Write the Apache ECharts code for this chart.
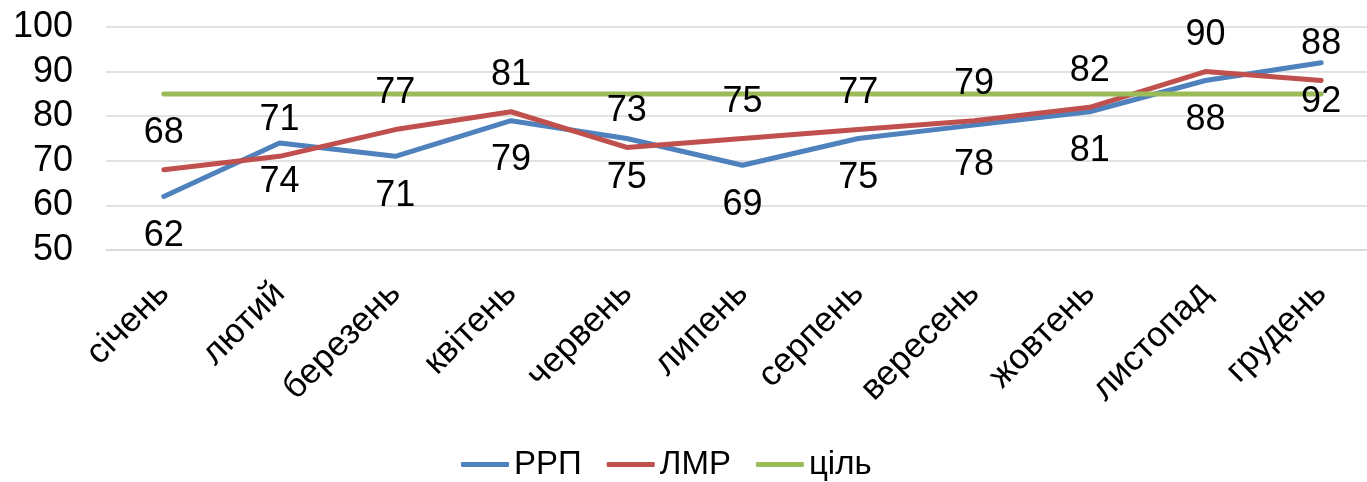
<!DOCTYPE html>
<html>
<head>
<meta charset="utf-8">
<script src="https://cdn.jsdelivr.net/npm/echarts@6/dist/echarts.min.js"></script>
<style>
html,body{margin:0;padding:0;background:#fff;overflow:hidden;width:1367px;height:482px;}
#chart{width:1380px;height:482px;}
</style>
</head>
<body>
<div id="chart"></div>
<script>
const categories = ['січень','лютий','березень','квітень','червень','липень','серпень','вересень','жовтень','листопад','грудень'];
const rrp = [62, 74, 71, 79, 75, 69, 75, 78, 81, 88, 92];
const lmr = [68, 71, 77, 81, 73, 75, 77, 79, 82, 90, 88];
const target = [85, 85, 85, 85, 85, 85, 85, 85, 85, 85, 85];
const seriesNames = ['РРП', 'ЛМР', 'ціль'];

const FONT = 'Liberation Sans, Arial, sans-serif';
const chart = echarts.init(document.getElementById('chart'), null, {renderer: 'canvas'});

function lineSeries(name, data, color, labelPos, dist) {
  const s = {
    name: name,
    type: 'line',
    data: data,
    symbol: 'circle',
    symbolSize: 1,
    showSymbol: true,
    itemStyle: {color: color},
    lineStyle: {color: color, width: 5, cap: 'round', join: 'round'},
    emphasis: {disabled: true},
    animation: false
  };
  if (labelPos) {
    s.label = {show: true, position: labelPos, distance: dist, fontSize: 36, fontFamily: FONT, color: '#000'};
  }
  return s;
}

chart.setOption({
  backgroundColor: '#fff',
  animation: false,
  grid: {left: 106, right: 1, top: 27, bottom: 232, containLabel: false},
  legend: {
    data: seriesNames.map(n => ({name: n, icon: 'roundRect'})),
    left: 456, top: 443,
    itemWidth: 48, itemHeight: 5, itemGap: 25,
    textStyle: {fontSize: 33, fontFamily: FONT, color: '#000'},
    selectedMode: false
  },
  xAxis: {
    type: 'category',
    data: categories,
    boundaryGap: true,
    axisLine: {show: true, lineStyle: {color: '#D9D9D9', width: 1.5}},
    axisTick: {show: false},
    axisLabel: {rotate: 45, fontSize: 35, fontFamily: FONT, color: '#000', margin: 38, interval: 0}
  },
  yAxis: {
    type: 'value',
    min: 50, max: 100, interval: 10,
    axisLine: {show: false},
    axisTick: {show: false},
    splitLine: {lineStyle: {color: '#D9D9D9', width: 1.5}},
    axisLabel: {fontSize: 36, fontFamily: FONT, color: '#000', margin: 33}
  },
  series: [
    lineSeries(seriesNames[0], rrp, '#4F81BD', 'bottom', 21),
    lineSeries(seriesNames[1], lmr, '#C0504D', 'top', 18),
    lineSeries(seriesNames[2], target, '#9BBB59', null)
  ]
});
</script>
</body>
</html>
